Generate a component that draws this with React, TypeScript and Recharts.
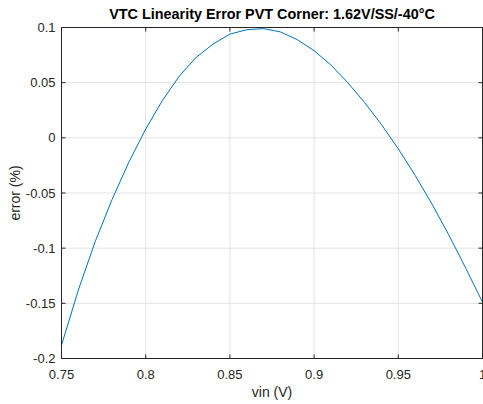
import React from 'react';
import { LineChart, Line, XAxis, YAxis, Label, ReferenceLine } from 'recharts';

// input voltage sweep (V)
const vin = [
  0.75, 0.76, 0.77, 0.78, 0.79, 0.8, 0.81, 0.82, 0.83, 0.84, 0.85, 0.86, 0.87,
  0.88, 0.89, 0.9, 0.91, 0.92, 0.93, 0.94, 0.95, 0.96, 0.97, 0.98, 0.99, 1.0,
];

// linearity error (%) at each vin
const errorPct = [
  -0.188, -0.138, -0.094, -0.056, -0.022, 0.008, 0.034, 0.056, 0.073, 0.085,
  0.094, 0.098, 0.099, 0.096, 0.089, 0.079, 0.066, 0.05, 0.032, 0.012,
  -0.01, -0.034, -0.06, -0.088, -0.118, -0.149,
];

const xTicks = [0.75, 0.8, 0.85, 0.9, 0.95, 1];
const yTicks = [-0.2, -0.15, -0.1, -0.05, 0, 0.05, 0.1];
const xRange = [0.75, 1];
const yRange = [-0.2, 0.1];

const data = vin.map((v, i) => ({ vin: v, err: errorPct[i] }));

const FONT = 'Arial, "Liberation Sans", Helvetica, sans-serif';
const TEXT = '#262626';
const AXIS = '#262626';
const GRID = '#e3e3e3';
const TICK_LEN = 4;

const XTickLabel = ({ x, y, payload }: any) => (
  <text x={x} y={y + 20} textAnchor="middle" fill={TEXT} fontSize={13} fontFamily={FONT}>
    {String(payload.value)}
  </text>
);

const YTickLabel = ({ x, y, payload }: any) => (
  <text x={x - 6} y={y + 4.5} textAnchor="end" fill={TEXT} fontSize={13} fontFamily={FONT}>
    {String(payload.value)}
  </text>
);

// inward tick marks at both ends of a vertical / horizontal reference line
const VTicks = (p: any) => {
  const top = Math.min(p.y1, p.y2);
  const bottom = Math.max(p.y1, p.y2);
  return (
    <g>
      <line x1={p.x1} y1={top} x2={p.x1} y2={top + TICK_LEN} stroke={AXIS} strokeWidth={1} />
      <line x1={p.x1} y1={bottom} x2={p.x1} y2={bottom - TICK_LEN} stroke={AXIS} strokeWidth={1} />
    </g>
  );
};

const HTicks = (p: any) => {
  const left = Math.min(p.x1, p.x2);
  const right = Math.max(p.x1, p.x2);
  return (
    <g>
      <line x1={left} y1={p.y1} x2={left + TICK_LEN} y2={p.y1} stroke={AXIS} strokeWidth={1} />
      <line x1={right} y1={p.y1} x2={right - TICK_LEN} y2={p.y1} stroke={AXIS} strokeWidth={1} />
    </g>
  );
};

const YLabel = ({ viewBox }: any) => {
  const cx = 20;
  const cy = viewBox.y + viewBox.height / 2;
  return (
    <text
      x={cx}
      y={cy}
      transform={`rotate(-90 ${cx} ${cy})`}
      textAnchor="middle"
      fill={TEXT}
      fontSize={14}
      fontFamily={FONT}
    >
      error (%)
    </text>
  );
};

const Title = ({ viewBox }: any) => (
  <text
    x={viewBox.x + viewBox.width / 2}
    y={18.5}
    textAnchor="middle"
    fill="#000"
    fontSize={14.4}
    fontWeight="bold"
    fontFamily={FONT}
  >
    VTC Linearity Error PVT Corner: 1.62V/SS/-40°C
  </text>
);

const inner = (ticks: number[], range: number[]) => ticks.filter((t) => !range.includes(t));

export default function App() {
  return (
    <div style={{ position: 'absolute', left: 0, top: 0, width: 483, height: 404, background: '#fff' }}>
      {/* half-pixel offsets keep the 1px box lines crisp */}
      <LineChart width={483} height={404} data={data} margin={{ top: 26, right: 0, bottom: 0, left: 0 }}>
        <XAxis
          xAxisId="b"
          dataKey="vin"
          type="number"
          domain={xRange}
          ticks={xTicks}
          interval={0}
          height={45.5}
          tickSize={0}
          tickMargin={0}
          tickLine={false}
          axisLine={false}
          tick={<XTickLabel />}
        >
          <Label
            value="vin (V)"
            position="insideBottom"
            offset={7}
            fill={TEXT}
            fontSize={14}
            fontFamily={FONT}
          />
        </XAxis>
        <XAxis
          xAxisId="t"
          orientation="top"
          dataKey="vin"
          type="number"
          domain={xRange}
          height={1.5}
          tick={false}
          tickLine={false}
          axisLine={false}
        >
          <Label content={<Title />} />
        </XAxis>
        <YAxis
          yAxisId="l"
          type="number"
          domain={yRange}
          ticks={yTicks}
          interval={0}
          width={61.5}
          tickSize={0}
          tickMargin={0}
          tickLine={false}
          axisLine={false}
          tick={<YTickLabel />}
        >
          <Label content={<YLabel />} />
        </YAxis>
        <YAxis
          yAxisId="r"
          orientation="right"
          type="number"
          domain={yRange}
          width={0.5}
          tick={false}
          tickLine={false}
          axisLine={false}
        />

        {/* grid */}
        {inner(xTicks, xRange).map((v) => (
          <ReferenceLine key={`gx${v}`} xAxisId="b" yAxisId="l" x={v} stroke={GRID} strokeWidth={1} />
        ))}
        {inner(yTicks, yRange).map((v) => (
          <ReferenceLine key={`gy${v}`} xAxisId="b" yAxisId="l" y={v} stroke={GRID} strokeWidth={1} />
        ))}

        <Line
          xAxisId="b"
          yAxisId="l"
          type="linear"
          dataKey="err"
          stroke="#0072BD"
          strokeWidth={1}
          dot={false}
          isAnimationActive={false}
        />

        {/* tick marks on all four sides */}
        {xTicks.map((v) => (
          <ReferenceLine key={`tx${v}`} xAxisId="b" yAxisId="l" x={v} ifOverflow="visible" shape={VTicks} />
        ))}
        {yTicks.map((v) => (
          <ReferenceLine key={`ty${v}`} xAxisId="b" yAxisId="l" y={v} ifOverflow="visible" shape={HTicks} />
        ))}

        {/* axes box */}
        {xRange.map((v) => (
          <ReferenceLine key={`bx${v}`} xAxisId="b" yAxisId="l" x={v} ifOverflow="visible" stroke={AXIS} strokeWidth={1} />
        ))}
        {yRange.map((v) => (
          <ReferenceLine key={`by${v}`} xAxisId="b" yAxisId="l" y={v} ifOverflow="visible" stroke={AXIS} strokeWidth={1} />
        ))}
      </LineChart>
    </div>
  );
}
